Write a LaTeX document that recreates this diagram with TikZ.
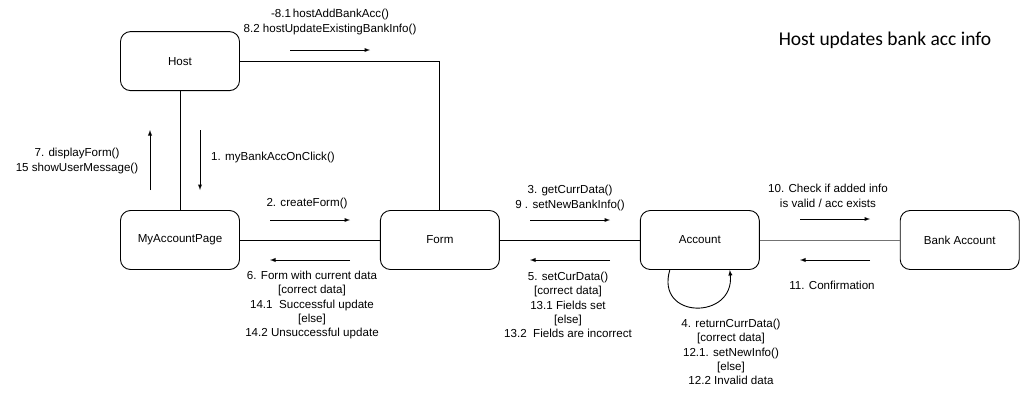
\documentclass[tikz,border=0pt]{standalone}
\usepackage{fontspec}
\setmainfont{Liberation Sans}
\newfontfamily\titlefont{Carlito}
\usetikzlibrary{positioning,calc}
\tikzstyle{every node}=[font=\fontsize{11.6}{14.3}\selectfont,node distance=119pt and 140pt]
\tikzstyle{textbox} = [rounded corners=10pt, minimum width=119pt, minimum height=59pt, text centered, draw=black, line width=0.9pt]
\tikzstyle{block} = [rectangle,textbox]
\tikzstyle{arrow} = [line width=0.9pt,->,>=latex]
\tikzstyle{link} = [line width=0.9pt]
\tikzstyle{msg} = [align=center, inner sep=0pt]

\begin{document}
\begin{tikzpicture}[x=1pt,y=-1pt]
\useasboundingbox (0,0) rectangle (1021,410);

\node (page) [block] at (180,240) {MyAccountPage};
\node (host) [block, above=of page] {Host};
\node (form) [block, right=of page] {Form};
\node (acct) [block, right=of form] {Account};
\node (bank) [block, right=of acct] {Bank Account};

\node (title) at (885,40) {\titlefont\fontsize{19.5}{22}\selectfont Host updates bank acc info};

% links
\draw [link] (host) -- (page);
\draw [link] (host.east) -| (form.north);
\draw [link] (page) -- (form);
\draw [link] (form) -- (acct);
\draw [link, draw=black!55] (acct) -- (bank);

% message arrows
\coordinate (m8a) at (290,50);  \coordinate (m8b) at (370,50);
\coordinate (m1a) at (200,130); \coordinate (m1b) at (200,190);
\coordinate (m7a) at (150,190); \coordinate (m7b) at (150,130);
\coordinate (m2a) at (270,220); \coordinate (m2b) at (350,220);
\coordinate (m6a) at (350,260); \coordinate (m6b) at (270,260);
\coordinate (m3a) at (530,220); \coordinate (m3b) at (610,220);
\coordinate (m5a) at (610,260); \coordinate (m5b) at (530,260);
\coordinate (m10a) at (800,219); \coordinate (m10b) at (870,219);
\coordinate (m11a) at (870,260); \coordinate (m11b) at (800,260);
\coordinate (loopa) at ($(acct.south)+(-30,0)$);
\coordinate (loopb) at ($(acct.south)+(30,0)$);

\draw [arrow] (m8a) -- (m8b);
\draw [arrow] (m1a) -- (m1b);
\draw [arrow] (m7a) -- (m7b);
\draw [arrow] (m2a) -- (m2b);
\draw [arrow] (m6a) -- (m6b);
\draw [arrow] (m3a) -- (m3b);
\draw [arrow] (m5a) -- (m5b);
\draw [arrow] (m10a) -- (m10b);
\draw [arrow] (m11a) -- (m11b);
\draw [arrow] (loopa) .. controls (655,320) and (735,320) .. (loopb); % self call

% labels
\node (l8) [msg] at (330,22) {-8.1\,hostAddBankAcc()\\8.2 hostUpdateExistingBankInfo()};
\node (l1) [msg, anchor=west] at (211,157) {1. myBankAccOnClick()};
\node (l7) [msg] at (77,161) {7. displayForm()\\15 showUserMessage()};
\node (l2) [msg] at (307,203) {2. createForm()};
\node (l6) [msg] at (312,305) {6. Form with current data\\{[correct data]}\\14.1\ \ Successful update\\{[else]}\\14.2 Unsuccessful update};
\node (l3) [msg] at (570,198) {3. getCurrData()\\9 . setNewBankInfo()};
\node (l5) [msg] at (568,305) {5. setCurData()\\{[correct data]}\\13.1 Fields set\\{[else]}\\13.2\ \ Fields are incorrect};
\node (l10) [msg] at (828,196) {10. Check if added info\\is valid / acc exists};
\node (l11) [msg] at (832,285) {11. Confirmation};
\node (l4) [msg] at (731,352) {4. returnCurrData()\\{[correct data]}\\12.1. setNewInfo()\\{[else]}\\12.2 Invalid data};

\end{tikzpicture}
\end{document}
